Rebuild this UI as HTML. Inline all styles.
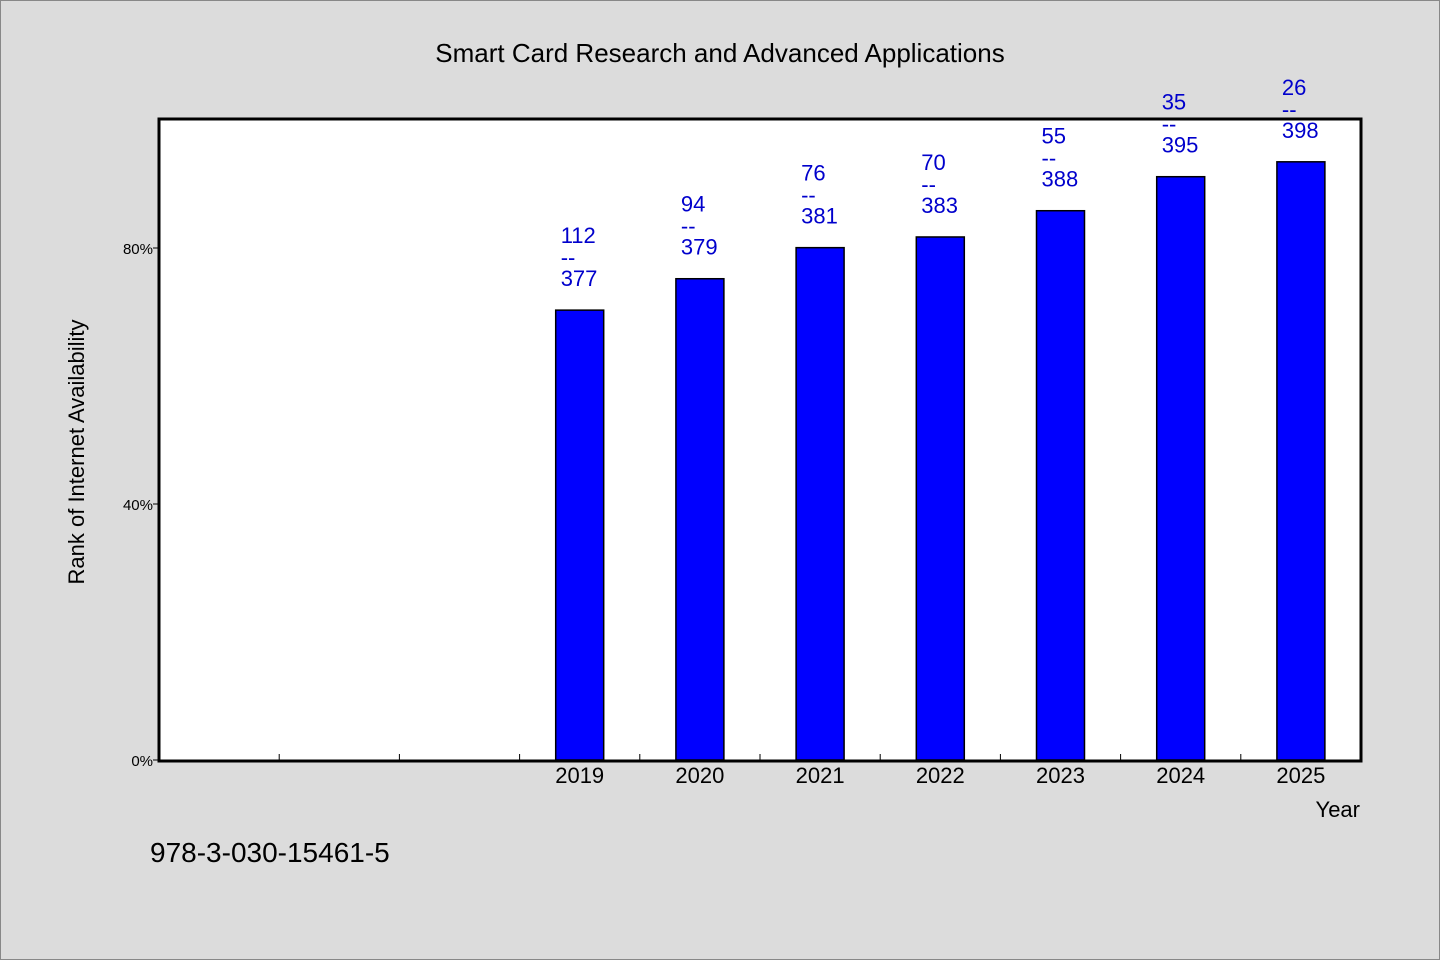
<!DOCTYPE html>
<html><head><meta charset="utf-8"><style>
body{margin:0;background:#dcdcdc}
svg{display:block;font-family:"WenQuanYi Zen Hei","Liberation Sans",sans-serif}
</style></head><body>
<svg id="c" width="1440" height="960" viewBox="0 0 1440 960">
<rect x="0.5" y="0.5" width="1439" height="959" fill="#dcdcdc" stroke="#888"/>
<text x="720" y="62" text-anchor="middle" font-size="26" fill="#000">Smart Card Research and Advanced Applications</text>
<rect x="159" y="119" width="1202" height="642" fill="#fff"/>
<g id="ticks"></g>
<g id="bars"></g>
<rect x="159" y="119" width="1202" height="642" fill="none" stroke="#000" stroke-width="3"/>
<text transform="translate(84,452) rotate(-90)" text-anchor="middle" font-size="22">Rank of Internet Availability</text>
<text x="1360" y="817" text-anchor="end" font-size="22">Year</text>
<text x="150" y="862" font-size="28">978-3-030-15461-5</text>
</svg>
<script>
const categories=["","","","2019","2020","2021","2022","2023","2024","2025"];
const ranks=[null,null,null,112,94,76,70,55,35,26];
const totals=[null,null,null,377,379,381,383,388,395,398];
const yTicks=[0,40,80];
const NS="http://www.w3.org/2000/svg";
const x0=159,x1=1361,yb=760,yt=119;
const slot=(x1-x0)/categories.length;
const xc=i=>x0+slot*(i+0.5);
const y=v=>yb-v*6.4;
function mk(t,a,p,txt){const e=document.createElementNS(NS,t);for(const k in a)e.setAttribute(k,a[k]);if(txt!=null)e.textContent=txt;p.appendChild(e);return e;}
const tg=document.getElementById('ticks'),bg=document.getElementById('bars');
yTicks.forEach(v=>{
 const l=mk('line',{x1:x0-6,x2:x0,y1:y(v),y2:y(v),stroke:'#000'},tg);
 
 
 const t=mk('text',{x:x0-6,y:y(v)+6,'text-anchor':'end','font-size':15},tg,v+'%');
 
 
});
for(let i=1;i<categories.length;i++){
 const l=mk('line',{x1:x0+slot*i,x2:x0+slot*i,y1:yb,y2:yb-6,stroke:'#000'},tg);
 
 
}
categories.forEach((c,i)=>{
 if(!c)return;
 const t=mk('text',{x:xc(i),y:783,'text-anchor':'middle','font-size':22},tg,c);
 
 
 if(ranks[i]==null)return;
 const v=(1-ranks[i]/totals[i])*100, top=y(v);
 const r=mk('rect',{x:xc(i)-24,y:top,width:48,height:yb-top,fill:'#0000ff',stroke:'#000','stroke-width':1.5},bg);
 
 
 const g=mk('g',{fill:'#0000cc','font-size':22},bg);
 
 
 mk('text',{x:xc(i)-19,y:top-67},g,ranks[i]);
 mk('text',{x:xc(i)-19,y:top-45},g,'--');
 mk('text',{x:xc(i)-19,y:top-24},g,totals[i]);
});
</script>
</body></html>
